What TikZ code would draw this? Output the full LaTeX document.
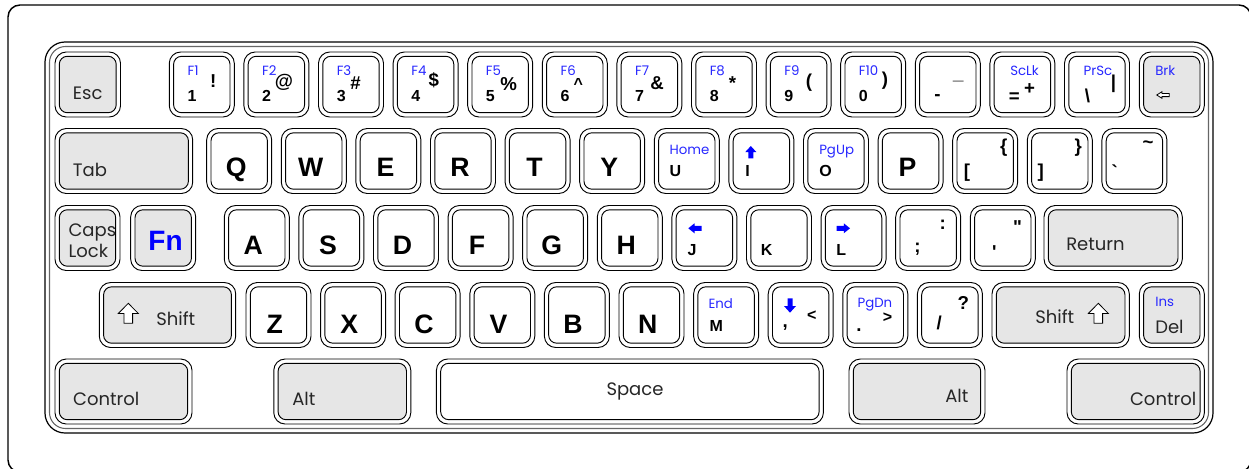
\documentclass[tikz,border=0pt]{standalone}
\usepackage{fontspec}
\setmainfont{Liberation Sans}[Ligatures=TeXOff]
\newfontfamily\lt{Poppins}
\definecolor{kg}{RGB}{230,230,230}
\definecolor{kb}{RGB}{0,0,255}
\definecolor{lb}{RGB}{40,40,255}
\newcommand\kk[4]{%
  \draw[kout] (#1,#2) rectangle ++(#3,65);
  \draw[kin,fill=#4] ({#1+4.3},{#2+4.3}) rectangle ++({#3-8.6},56.4);}
\newcommand\shiftarr[2]{%
  \draw[harr] (#1,#2) -- ({#1+10},{#2+10.2}) -- ({#1+4.3},{#2+10.2}) -- ({#1+4.3},{#2+20}) -- ({#1-4.3},{#2+20}) -- ({#1-4.3},{#2+10.2}) -- ({#1-10},{#2+10.2}) -- cycle;}
\begin{document}
\begin{tikzpicture}[x=0.75pt,y=-0.75pt,
  kout/.style={draw=black,line width=0.7pt,fill=white,rounded corners=8.5pt},
  kin/.style={draw=black,line width=0.7pt,rounded corners=6pt},
  mlab/.style={inner sep=0,anchor=base west,font=\lt\fontsize{13.5}{14}\selectfont,text=black!85},
  flab/.style={inner sep=0,anchor=base west,font=\lt\fontsize{10}{11}\selectfont,text=lb},
  big/.style={inner sep=0,anchor=base,font=\bfseries\fontsize{20}{22}\selectfont},
  dig/.style={inner sep=0,anchor=base west,font=\bfseries\fontsize{12}{13}\selectfont},
  sym/.style={inner sep=0,anchor=base,font=\bfseries\fontsize{14}{15}\selectfont},
  ssym/.style={inner sep=0,anchor=base,font=\bfseries\fontsize{12}{13}\selectfont},
  barr/.style={fill=kb,draw=none},
  harr/.style={draw=black,line width=0.6pt,fill=white,line join=miter}]
\useasboundingbox (0,0) rectangle (1249,468);
\begin{scope}
\clip (0,0) rectangle (1249,468);
\draw[line width=1.1pt,rounded corners=9pt] (8,5) rectangle (1251,472);
\end{scope}
% keyboard frame
\draw[line width=0.9pt,rounded corners=15pt] (45,42) rectangle (1213,433);
\draw[line width=0.8pt,draw=black!60,rounded corners=12pt] (49.5,46.5) rectangle (1208.5,428.5);
% row 1
\kk{55}{52}{65.5}{kg}
\foreach \i in {0,...,12} {\kk{169.3+\i*74.6}{52}{65}{white}}
\kk{1139.3}{52}{65}{kg}
% row 2
\kk{55}{128.5}{137.7}{kg}
\foreach \i in {0,...,12} {\kk{206.7+\i*74.6}{128.5}{65}{white}}
% row 3
\kk{55}{205.5}{65}{kg}
\kk{130.7}{205.5}{65}{kg}
\foreach \i in {0,...,10} {\kk{224.3+\i*74.6}{205.5}{65}{white}}
\kk{1044}{205.5}{138.3}{kg}
% row 4
\kk{99.3}{282.5}{136.4}{kg}
\foreach \i in {0,...,9} {\kk{246+\i*74.6}{282.5}{65}{white}}
\kk{992}{282.5}{137.3}{kg}
\kk{1139.3}{282.5}{65}{kg}
% row 5
\kk{55}{359}{137}{kg}
\kk{273.8}{359}{137}{kg}
\kk{436.4}{359}{387}{white}
\kk{849}{359}{136}{kg}
\kk{1067}{359}{137.4}{kg}
% ---- labels row 1
\node[mlab] (esc) at (72.7,99.3) {Esc};
\foreach \i/\F/\d in {0/F1/1,1/F2/2,2/F3/3,3/F4/4,4/F5/5,5/F6/6,6/F7/7,7/F8/8,8/F9/9,9/F10/0} {
  \node[flab] at ({169.3+\i*74.6+18},75.5) {\F};
  \node[dig] at ({169.3+\i*74.6+18},101) {\d};}
\node[sym] at (213.3,87.3) {!};
\node[sym] at (284,87) {@};
\node[sym] at (355.5,89) {\#};
\node[sym] at (433.8,86.5) {\$};
\node[sym] at (508.7,90) {\%};
\node[dig,anchor=base] at (578.3,89.5) {\textasciicircum};
\node[sym] at (657,89.3) {\&};
\node[sym] at (732.5,89) {*};
\node[sym] at (809,87.5) {(};
\node[sym] at (885,85) {)};
\node[sym] at (937.5,100) {-};
\node[inner sep=0,anchor=base,font=\fontsize{14}{15}\selectfont,text=black!55] at (958.3,78) {\_};
\node[flab] at (1010,75.5) {ScLk};
\node[sym] at (1014.3,102) {=};
\node[sym] at (1029.5,94) {+};
\node[flab] at (1083.3,75.5) {PrSc};
\node[sym] at (1087.5,102.7) {\textbackslash};
\node[sym] at (1113.5,88) {|};
\node[flab] at (1155,75.5) {Brk};
\draw[harr] (1156.7,95) -- (1162,91.7) -- (1162,93.4) -- (1169.3,93.4) -- (1169.3,96.6) -- (1162,96.6) -- (1162,98.3) -- cycle;
% ---- labels row 2
\node[mlab] at (72.7,176) {Tab};
\foreach \i/\L in {0/Q,1/W,2/E,3/R,4/T,5/Y,9/P} {\node[big] at ({206.7+\i*74.6+29.5},176.7) {\L};}
\node[flab] at (669.3,154) {Home};
\node[dig] at (669.3,176.7) {U};
\path[barr] (745.3,152) -- (750.8,146) -- (756.3,152) -- (753.3,152) -- (753.3,158.3) -- (748.3,158.3) -- (748.3,152) -- cycle;
\node[dig] at (745,176.7) {I};
\node[flab] at (819,154) {PgUp};
\node[dig] at (819,176.7) {O};
\node[sym] at (1003.7,152) {\{};
\node[sym] at (967,177.8) {[};
\node[sym] at (1078.3,152) {\}};
\node[sym] at (1040.8,177.8) {]};
\node[sym] at (1148,148) {\textasciitilde};
\node[sym] at (1114.7,178) {`};
% ---- labels row 3
\node[mlab] at (68.3,236.7) {Caps};
\node[mlab] at (68.3,257) {Lock};
\node[inner sep=0,anchor=base,font=\bfseries\fontsize{21}{22}\selectfont,text=kb] at (165.5,250) {Fn};
\foreach \i/\L in {0/A,1/S,2/D,3/F,4/G,5/H} {\node[big] at ({224.3+\i*74.6+29},254.5) {\L};}
\path[barr] (688.3,228.3) -- (694.5,223.3) -- (694.5,225.8) -- (701.7,225.8) -- (701.7,230.8) -- (694.5,230.8) -- (694.5,233.3) -- cycle;
\node[dig] at (687.3,255) {J};
\node[dig] at (760.7,255) {K};
\path[barr] (850,228.3) -- (843.8,223.3) -- (843.8,225.8) -- (836.6,225.8) -- (836.6,230.8) -- (843.8,230.8) -- (843.8,233.3) -- cycle;
\node[dig] at (836,255) {L};
\node[sym] at (942.8,229.3) {:};
\node[sym] at (917.5,252) {;};
\node[sym] at (1017.5,233.5) {"};
\node[sym] at (994.3,258.5) {'};
\node[mlab] at (1066,250) {Return};
% ---- labels row 4
\shiftarr{128.3}{303.3}
\node[mlab] at (156,325) {Shift};
\foreach \i/\L in {0/Z,1/X,2/C,3/V,4/B,5/N} {\node[big] at ({246+\i*74.6+28.7},333.3) {\L};}
\node[flab] at (708.3,308.3) {End};
\node[dig] at (709.3,331.7) {M};
\path[barr] (784,306) -- (790,312.7) -- (796,306) -- (792.5,306) -- (792.5,298.3) -- (787.5,298.3) -- (787.5,306) -- cycle;
\node[sym] at (785.3,327.6) {,};
\node[ssym] at (811.7,320.5) {<};
\node[flab] at (857.3,307.5) {PgDn};
\node[ssym] at (887.5,322) {>};
\node[sym] at (859,331.7) {.};
\node[sym] at (963.3,309.3) {?};
\node[sym] at (939.2,329.3) {/};
\node[mlab] at (1035,323.3) {Shift};
\shiftarr{1098.3}{303.3}
\node[flab] at (1155,306.7) {Ins};
\node[mlab] at (1155,333.3) {Del};
% ---- labels row 5
\node[mlab] at (72.9,405.7) {Control};
\node[mlab] at (292,405) {Alt};
\node[mlab,anchor=base] at (635,395) {Space};
\node[mlab,anchor=base east] at (968.7,402.7) {Alt};
\node[mlab,anchor=base east] at (1196.5,405) {Control};
\end{tikzpicture}
\end{document}
